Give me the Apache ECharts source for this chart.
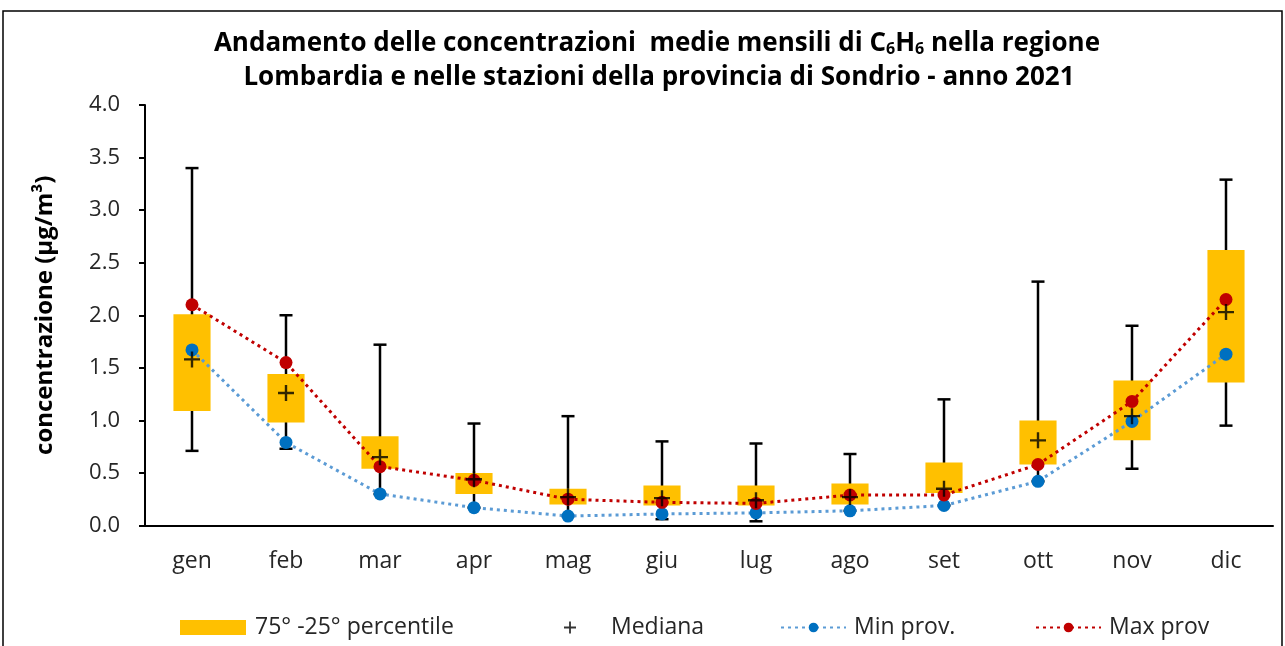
<!DOCTYPE html>
<html>
<head>
<meta charset="utf-8">
<script src="https://cdn.jsdelivr.net/npm/echarts@6/dist/echarts.min.js"></script>
<style>
  html, body { margin: 0; padding: 0; background: #fff; }
  #main { width: 1285px; height: 646px; }
</style>
</head>
<body>
<div id="main"></div>
<script>
var FONT = '"Open Sans", "Noto Sans", sans-serif';

var months = ['gen', 'feb', 'mar', 'apr', 'mag', 'giu', 'lug', 'ago', 'set', 'ott', 'nov', 'dic'];
// regional min / max (whiskers)
var whiskerMin = [0.71, 0.73, 0.30, 0.17, 0.09, 0.06, 0.04, 0.14, 0.19, 0.42, 0.54, 0.95];
var whiskerMax = [3.40, 2.00, 1.72, 0.97, 1.04, 0.80, 0.78, 0.68, 1.20, 2.32, 1.90, 3.29];
// 25th / 75th percentile
var perc25 = [1.09, 0.98, 0.54, 0.30, 0.20, 0.19, 0.19, 0.20, 0.31, 0.58, 0.81, 1.36];
var perc75 = [2.01, 1.44, 0.85, 0.50, 0.35, 0.38, 0.38, 0.40, 0.60, 1.00, 1.38, 2.62];
var median = [1.58, 1.26, 0.65, 0.44, 0.27, 0.26, 0.24, 0.27, 0.35, 0.81, 1.04, 2.03];
var minProv = [1.67, 0.79, 0.30, 0.17, 0.09, 0.11, 0.12, 0.14, 0.19, 0.42, 0.99, 1.63];
var maxProv = [2.10, 1.55, 0.56, 0.43, 0.25, 0.22, 0.21, 0.29, 0.29, 0.58, 1.18, 2.15];

var plusPath = 'path://M0,6.8H16V9.2H0Z M6.8,0H9.2V16H6.8Z';

var boxData = months.map(function (m, i) {
  return [i, whiskerMin[i], whiskerMax[i], perc25[i], perc75[i]];
});

function renderBox(params, api) {
  var x = api.value(0);
  var lo = api.coord([x, api.value(1)]);
  var hi = api.coord([x, api.value(2)]);
  var q1 = api.coord([x, api.value(3)]);
  var q3 = api.coord([x, api.value(4)]);
  var bw = api.size([1, 0])[0] * 0.395;
  var cap = 6.5;
  var st = { stroke: '#000', lineWidth: 2.5 };
  return {
    type: 'group',
    children: [
      { type: 'line', shape: { x1: lo[0], y1: lo[1], x2: hi[0], y2: hi[1] }, style: st },
      { type: 'line', shape: { x1: lo[0] - cap, y1: lo[1], x2: lo[0] + cap, y2: lo[1] }, style: st },
      { type: 'line', shape: { x1: hi[0] - cap, y1: hi[1], x2: hi[0] + cap, y2: hi[1] }, style: st },
      { type: 'rect', shape: { x: q3[0] - bw / 2, y: q3[1], width: bw, height: q1[1] - q3[1] },
        style: { fill: '#FFC000' } }
    ]
  };
}

var chart = echarts.init(document.getElementById('main'));

var legendText = { fontFamily: FONT, fontSize: 23, color: '#262626' };

var option = {
  animation: false,
  textStyle: { fontFamily: FONT },
  grid: { left: 145, right: 12, top: 105, bottom: 120.5, containLabel: false },
  graphic: [
    { type: 'rect', shape: { x: 3, y: 11, width: 1279, height: 700 },
      style: { fill: 'none', stroke: '#000', lineWidth: 1.5 } },
    { type: 'text', x: 657, y: 44,
      style: {
        text: 'Andamento delle concentrazioni  medie mensili di C{s|6}H{s|6} nella regione',
        textAlign: 'center', textVerticalAlign: 'middle',
        fontFamily: FONT, fontSize: 26, fontWeight: 'bold', fill: '#000',
        rich: {
          s: { fontFamily: FONT, fontSize: 16, fontWeight: 'bold', verticalAlign: 'bottom', lineHeight: 24 }
        }
      } },
    { type: 'text', x: 659, y: 78,
      style: {
        text: 'Lombardia e nelle stazioni della provincia di Sondrio - anno 2021',
        textAlign: 'center', textVerticalAlign: 'middle',
        fontFamily: FONT, fontSize: 26, fontWeight: 'bold', fill: '#000'
      } }
  ],
  legend: [
    { data: [{ name: '75° -25° percentile', icon: 'rect' }], left: 175, top: 611,
      itemWidth: 66, itemHeight: 15, selectedMode: false,
      textStyle: Object.assign({ padding: [0, 0, 0, 4] }, legendText) },
    { data: [{ name: 'Mediana', icon: plusPath }], left: 559, top: 611,
      itemWidth: 12, itemHeight: 12, selectedMode: false,
      textStyle: Object.assign({ padding: [0, 0, 0, 30] }, legendText) },
    { data: ['Min prov.'], left: 775, top: 611, itemWidth: 65, itemHeight: 12, selectedMode: false,
      textStyle: Object.assign({ padding: [0, 0, 0, 3] }, legendText) },
    { data: ['Max prov'], left: 1030, top: 611, itemWidth: 65, itemHeight: 12, selectedMode: false,
      textStyle: Object.assign({ padding: [0, 0, 0, 3] }, legendText) }
  ],
  xAxis: {
    type: 'category',
    data: months,
    boundaryGap: true,
    axisLine: { lineStyle: { color: '#000', width: 2 } },
    axisTick: { length: 8, lineStyle: { color: '#000', width: 2 } },
    axisLabel: { fontFamily: FONT, fontSize: 23, color: '#262626', margin: 24 }
  },
  yAxis: {
    type: 'value',
    min: 0, max: 4, interval: 0.5,
    name: 'concentrazione (µg/m³)',
    nameLocation: 'middle', nameRotate: 90, nameGap: 88,
    nameTextStyle: { fontFamily: FONT, fontSize: 24, fontWeight: 'bold', color: '#000' },
    axisLine: { show: true, lineStyle: { color: '#000', width: 2 } },
    axisTick: { show: true, length: 6, lineStyle: { color: '#000', width: 2 } },
    splitLine: { show: false },
    axisLabel: { fontFamily: FONT, fontSize: 22, color: '#262626', margin: 25,
      formatter: function (v) { return v.toFixed(1); } }
  },
  series: [
    {
      name: '75° -25° percentile',
      type: 'custom',
      renderItem: renderBox,
      itemStyle: { color: '#FFC000' },
      encode: { x: 0, y: [1, 2, 3, 4] },
      data: boxData,
      z: 1
    },
    {
      name: 'Min prov.',
      type: 'line',
      data: minProv,
      symbol: 'circle', symbolSize: 13,
      itemStyle: { color: '#0070C0' },
      lineStyle: { color: '#5B9BD5', width: 3, type: [3, 4] },
      z: 3
    },
    {
      name: 'Max prov',
      type: 'line',
      data: maxProv,
      symbol: 'circle', symbolSize: 13,
      itemStyle: { color: '#C00000' },
      lineStyle: { color: '#C00000', width: 3, type: [3, 4] },
      z: 4
    },
    {
      name: 'Mediana',
      type: 'scatter',
      data: median,
      symbol: plusPath, symbolSize: 16,
      itemStyle: { color: '#000' },
      z: 5
    }
  ]
};

chart.setOption(option);
</script>
</body>
</html>
